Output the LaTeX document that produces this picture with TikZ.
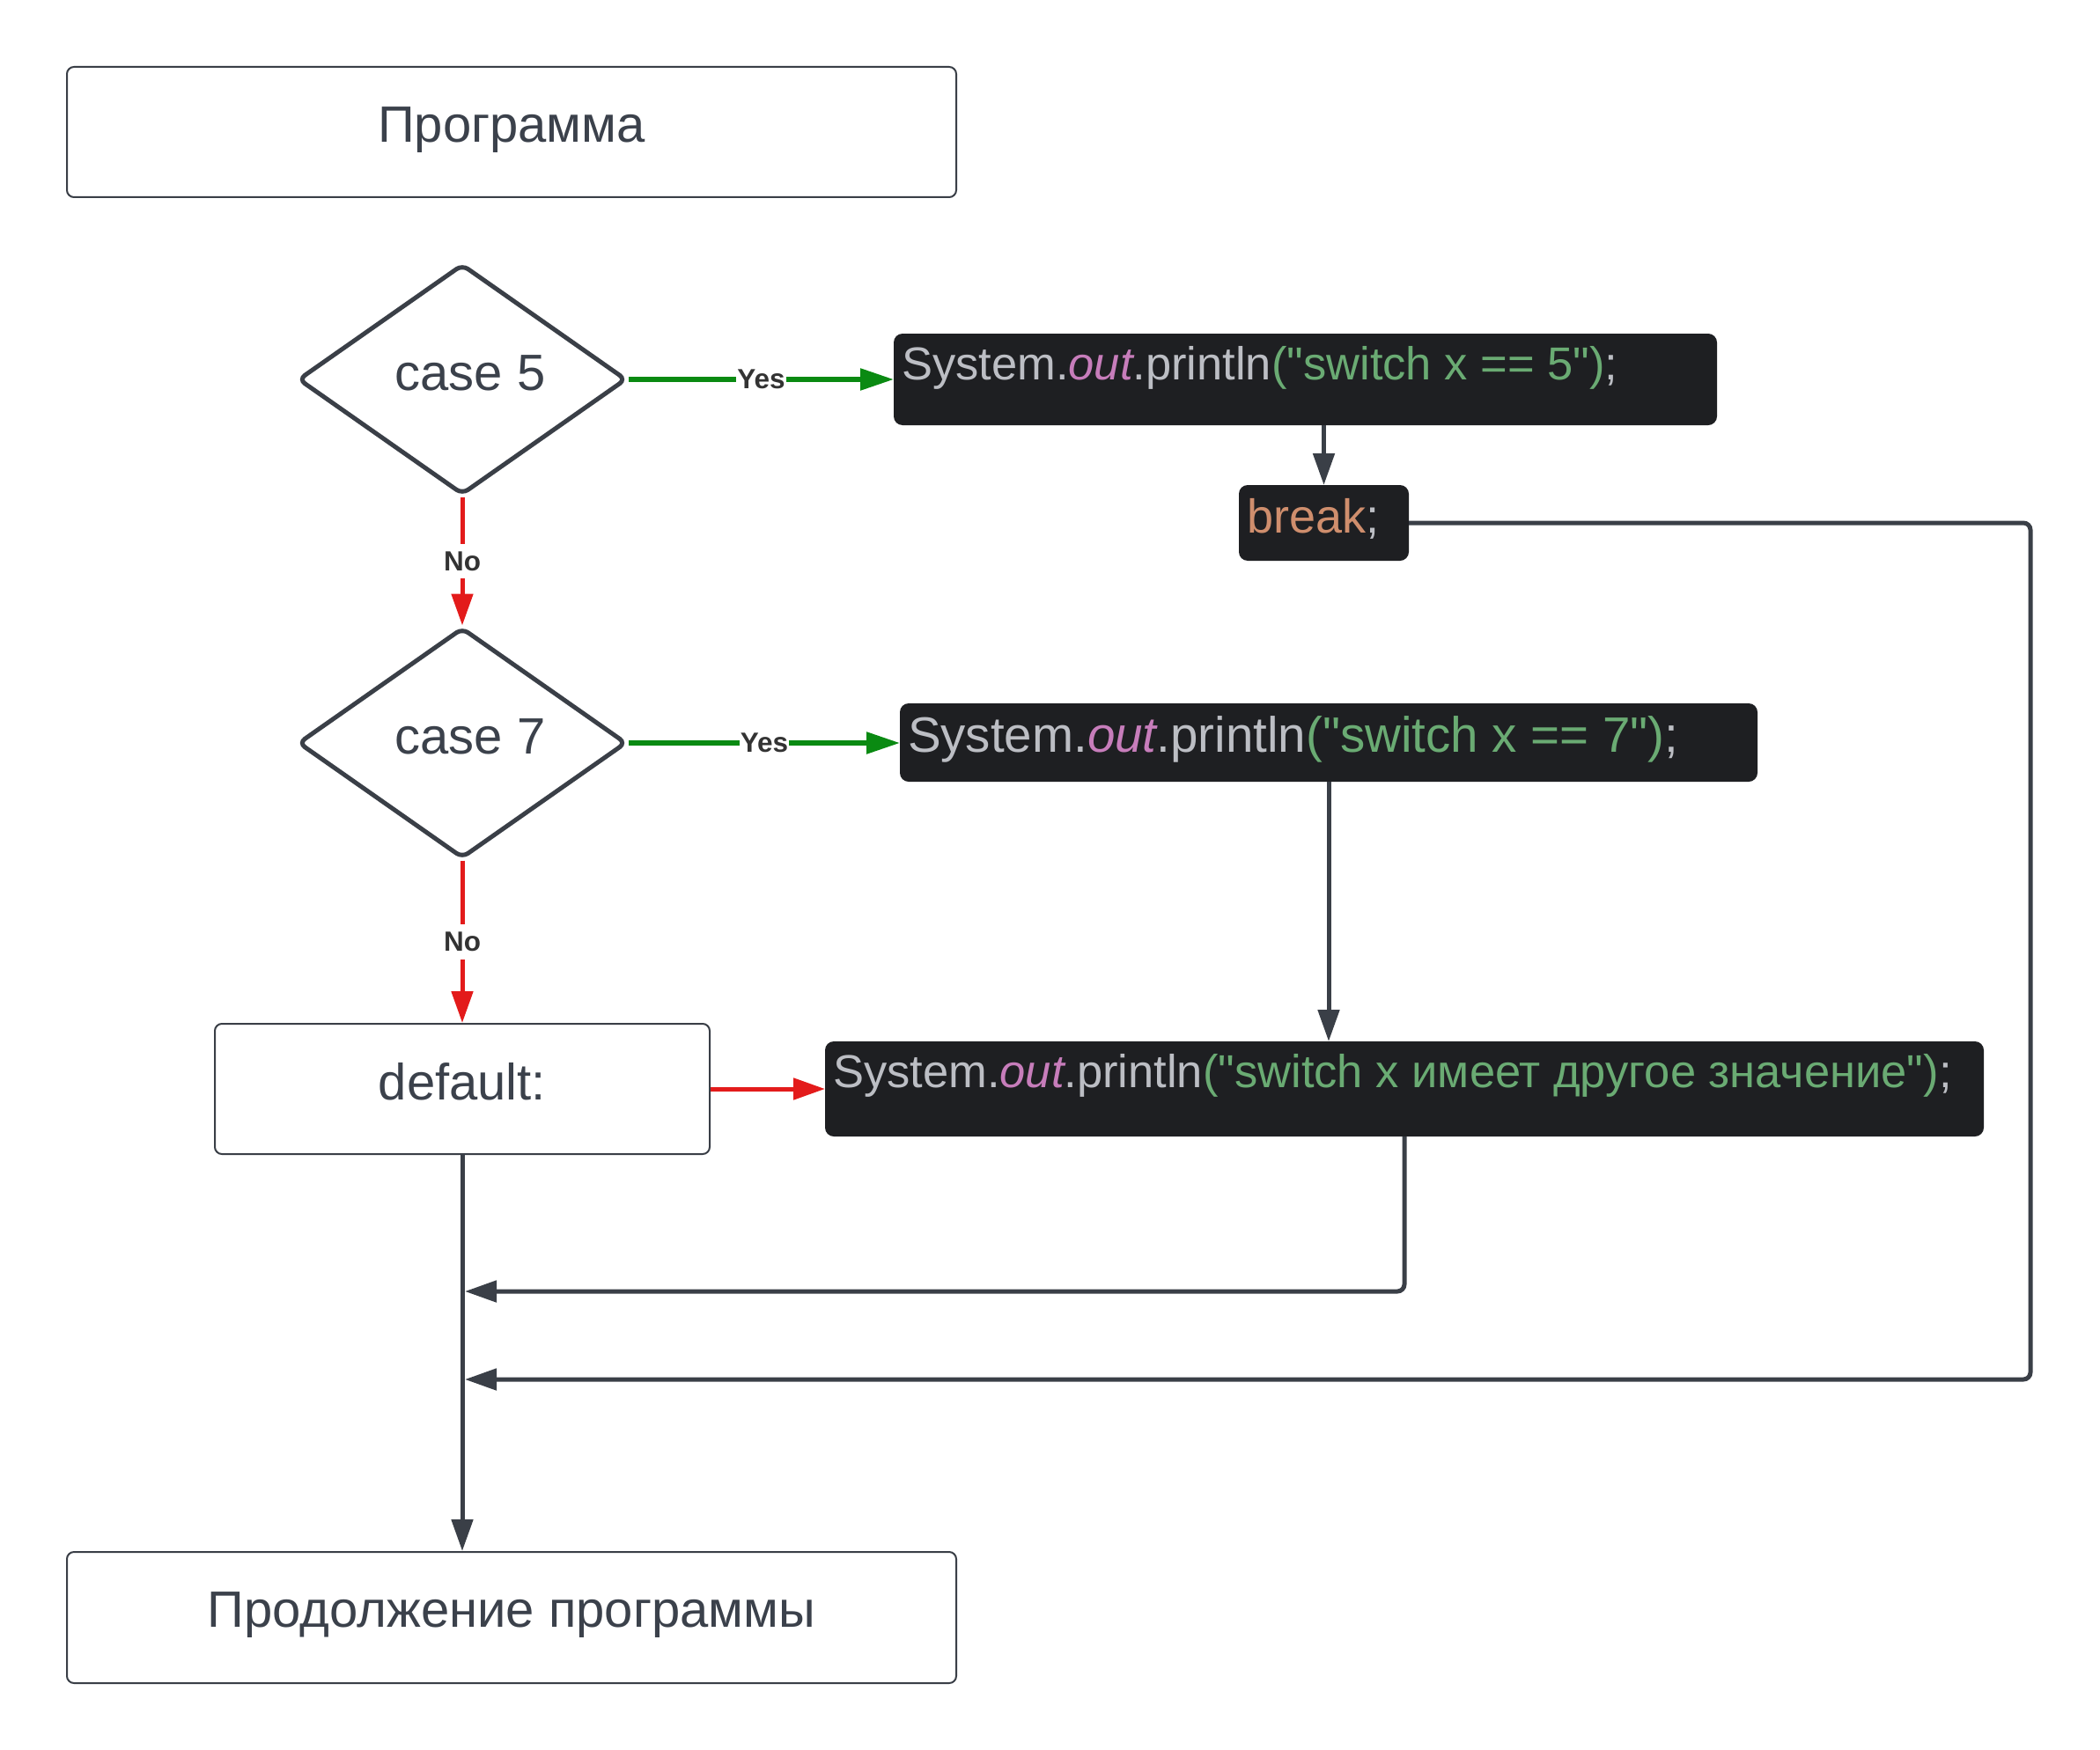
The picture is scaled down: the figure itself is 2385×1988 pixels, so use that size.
\documentclass[tikz,border=0pt]{standalone}
\usepackage{fontspec}
\setmainfont{Liberation Sans}
\usetikzlibrary{shapes.geometric,arrows.meta}
\definecolor{linegrey}{HTML}{3A3F47}
\definecolor{textgrey}{HTML}{3B414B}
\definecolor{answergrey}{HTML}{333333}
\definecolor{yesgreen}{HTML}{0A8A12}
\definecolor{nored}{HTML}{E31B1B}
\definecolor{codebg}{HTML}{1E1F22}
\definecolor{codegrey}{HTML}{BCBEC4}
\definecolor{codepurple}{HTML}{C77DBB}
\definecolor{codegreen}{HTML}{6AAB73}
\definecolor{codeorange}{HTML}{CF8E6D}

\begin{document}
\begin{tikzpicture}
    [
    x=1pt,y=-1pt,
    block/.style={rectangle,draw=linegrey,line width=2pt,rounded corners=8pt,fill=white,text=textgrey,font=\fontsize{58}{60}\selectfont,text height=42pt,text depth=18pt,inner sep=0pt},
    decision/.style={diamond,draw=linegrey,line width=5pt,rounded corners=8pt,fill=white,text=textgrey,font=\fontsize{58}{60}\selectfont,text height=42pt,text depth=18pt,inner sep=0pt,minimum width=373pt,minimum height=262pt},
    codebox/.style={rectangle,fill=codebg,rounded corners=10pt,text=codegrey,inner xsep=9pt,inner ysep=0pt,outer sep=0pt,font=\fontsize{52.5}{54}\selectfont},
    flow/.style={draw=linegrey,line width=5pt,-{Triangle[length=36pt,width=24pt]}},
    yesarrow/.style={draw=yesgreen,line width=5.5pt,-{Triangle[length=38pt,width=24pt]}},
    noarrow/.style={draw=nored,line width=5pt,-{Triangle[length=36pt,width=24pt]}},
    answer/.style={fill=white,text=answergrey,font=\bfseries\fontsize{31.5}{33}\selectfont,inner xsep=1pt,inner ysep=9pt}
    ]
    \useasboundingbox (0,0) rectangle (2385,1988);
    \node (prog) at (581,150) [block,minimum width=1010pt,minimum height=148pt] {Программа};
    \node (c5) at (525,431) [decision] {\hspace*{18pt}case 5};
    \node (code5) at (1482.5,431) [codebox,text height=52pt,text depth=52pt] {\makebox[917pt][l]{System.\textcolor{codepurple}{\itshape out}.println\textcolor{codegreen}{(\textquotedbl switch x == 5\textquotedbl)};}};
    \node (brk) at (1503.5,594) [codebox,font=\fontsize{54}{56}\selectfont,text height=54pt,text depth=32pt] {\makebox[175pt][l]{\textcolor{codeorange}{break};}};
    \node (c7) at (525,844) [decision] {\hspace*{18pt}case 7};
    \node (code7) at (1509,843.5) [codebox,font=\fontsize{56.5}{58}\selectfont,text height=55pt,text depth=34pt] {\makebox[956pt][l]{System.\textcolor{codepurple}{\itshape out}.println\textcolor{codegreen}{(\textquotedbl switch x == 7\textquotedbl)};}};
    \node (dflt) at (525,1237) [block,minimum width=562pt,minimum height=148pt] {default:};
    \node (codeD) at (1595,1237) [codebox,text height=52pt,text depth=56pt] {\makebox[1298pt][l]{System.\textcolor{codepurple}{\itshape out}.println\textcolor{codegreen}{(\textquotedbl switch x имеет другое значение\textquotedbl)};}};
    \node (cont) at (581,1837.5) [block,minimum width=1010pt,minimum height=149pt,text depth=21pt] {Продолжение программы};
    \coordinate (j1) at (528,1467);
    \coordinate (j2) at (528,1567);
    \coordinate (rc) at (2306,1567);
    \draw [yesarrow] (c5.east) to node [answer] {Yes} (code5.west);
    \draw [yesarrow] (c7.east) to node [answer] {Yes} (c7.east -| code7.west);
    \draw [noarrow] (c5.south) to node [answer] {No} (c7.north);
    \draw [noarrow] (c7.south) to node [answer] {No} (dflt.north);
    \draw [noarrow] (dflt.east) to (codeD.west);
    \draw [flow] (brk.north |- code5.south) to (brk.north);
    \draw [flow] (code7.south) to (code7.south |- codeD.north);
    \draw [flow,rounded corners=8pt] (codeD.south) |- (j1);
    \draw [flow,rounded corners=8pt] (brk.east) -| (rc) -- (j2);
    \draw [flow] (dflt.south) to (dflt.south |- cont.north);
  \end{tikzpicture}
\end{document}
